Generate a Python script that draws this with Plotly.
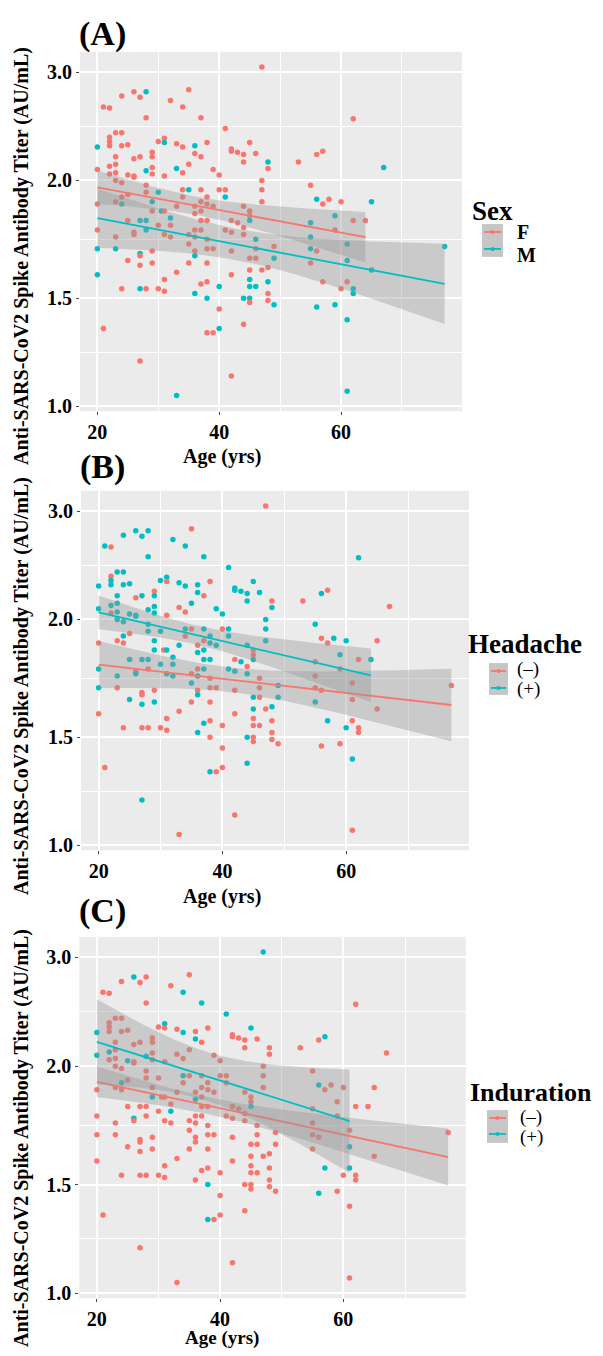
import numpy as np
import plotly.graph_objects as go

# ---------------- data ----------------
AGE = [
    20, 20, 20, 20, 20, 20,
    21, 21,
    22, 22, 22, 22, 22, 22,
    23, 23, 23, 23, 23, 23, 23, 23,
    24, 24, 24, 24, 24, 24, 24,
    25, 25, 25, 25, 25,
    26, 26, 26, 26, 26, 26,
    27, 27, 27, 27, 27, 27, 27, 27,
    28, 28, 28, 28, 28, 28, 28, 28,
    29, 29, 29, 29, 29, 29, 29, 29,
    30, 30, 30.5, 30, 30,
    31, 31, 31, 31, 31, 31, 31,
    32, 32, 32, 32,
    33, 33, 33, 33, 33,
    34, 34, 34, 34, 34,
    35, 35, 35, 35, 35, 35,
    36, 36, 36, 36, 36, 36, 36, 36, 36,
    37, 37, 37, 37, 37, 37, 37, 37,
    38, 38, 38, 38, 38, 38, 38, 38, 38, 38,
    39, 39, 39, 39,
    40, 40, 40, 40, 40,
    41, 41, 41, 41,
    42, 42, 42, 42, 42, 42, 42,
    43, 43,
    44, 44, 44, 44, 44, 44, 44,
    45, 45, 45, 45, 45, 45, 45, 45, 45, 45,
    46, 46, 46, 46, 46,
    47, 47, 47, 47, 47,
    48, 48, 48, 48, 48, 48,
    49, 49, 49,
    53,
    55, 55, 55, 55, 55,
    56, 56, 56, 56,
    57, 57, 57,
    58,
    59, 59, 59,
    60, 60,
    61, 61, 61, 61, 61,
    62, 62, 62, 62,
    64,
    65, 65,
    67,
    77,
]

TITER = [
    2.31, 2.10, 1.90, 1.79, 1.71, 1.60,
    2.68, 1.36,
    2.67, 2.40, 2.36, 2.32, 2.13, 2.06,
    2.44, 2.22, 2.15, 2.07, 2.00, 1.91, 1.76, 1.71,
    2.78, 2.44, 2.32, 1.99, 1.93, 1.90, 1.54,
    2.33, 2.05, 1.94, 1.83, 1.66,
    2.82, 2.20, 2.04, 2.03, 1.78, 1.77,
    2.77, 2.22, 1.83, 1.69, 1.68, 1.64, 1.54, 1.21,
    2.82, 2.58, 2.09, 1.98, 1.95, 1.83, 1.79, 1.54,
    2.26, 2.22, 2.12, 2.06, 1.91, 1.87, 1.70, 1.65,
    2.36, 1.95, 1.87, 1.81, 1.54,
    2.39, 2.35, 2.04, 1.87, 1.77, 1.58, 1.53,
    2.74, 1.84, 1.81, 1.76,
    2.34, 2.11, 1.89, 1.61, 1.05,
    2.68, 2.31, 2.07, 1.96, 1.93,
    2.84, 2.15, 1.96, 1.77, 1.73, 1.65,
    2.32, 2.25, 1.89, 1.86, 1.79, 1.76, 1.70, 1.68, 1.52,
    2.58, 2.22, 1.96, 1.91, 1.87, 1.83, 1.79, 1.56,
    2.35, 1.93, 1.90, 1.83, 1.75, 1.71, 1.65, 1.57, 1.50, 1.34,
    2.10, 1.89, 1.71, 1.34,
    2.05, 1.96, 1.55, 1.45, 1.36,
    2.48, 1.96, 1.93, 1.79,
    2.29, 2.27, 1.83, 1.78, 1.70, 1.60, 1.14,
    2.26, 1.82,
    2.24, 2.17, 1.89, 1.80, 1.77, 1.50, 1.38,
    2.35, 1.87, 1.85, 1.83, 1.67, 1.62, 1.58, 1.55, 1.50, 1.48,
    2.25, 1.75, 1.71, 1.67, 1.55,
    3.05, 2.00, 1.96, 1.91, 1.62,
    2.17, 2.11, 1.63, 1.57, 1.52, 1.49,
    1.72, 1.67, 1.47,
    2.17,
    1.98, 1.82, 1.76, 1.71, 1.65,
    2.24, 1.92, 1.70, 1.46,
    2.27, 1.90, 1.57,
    1.92,
    1.85, 1.79, 1.47,
    1.91, 1.54,
    1.73, 1.66, 1.57, 1.40, 1.07,
    2.57, 1.83, 1.54, 1.52,
    1.83,
    1.91, 1.62,
    2.12,
    1.72,
]

# group membership: 0 = first legend entry (red), 1 = second entry (teal)
SEX_M = [
    1, 0, 0, 0, 1, 1,
    0, 0,
    0, 0, 0, 0, 0, 0,
    0, 0, 0, 0, 0, 0, 0, 1,
    0, 0, 0, 0, 0, 1, 0,
    0, 0, 0, 0, 0,
    0, 0, 0, 0, 0, 0,
    0, 0, 1, 1, 0, 0, 1, 0,
    1, 0, 1, 0, 0, 1, 1, 0,
    0, 0, 0, 0, 1, 0, 0, 0,
    0, 1, 1, 0, 0,
    0, 1, 0, 0, 0, 0, 0,
    0, 1, 0, 0,
    0, 1, 0, 0, 1,
    0, 0, 0, 0, 0,
    0, 0, 1, 0, 0, 0,
    1, 0, 0, 0, 0, 0, 0, 1, 1,
    0, 0, 0, 0, 0, 0, 0, 0,
    0, 0, 0, 0, 0, 0, 0, 0, 1, 0,
    0, 0, 0, 0,
    0, 0, 1, 0, 1,
    0, 0, 1, 0,
    0, 0, 0, 0, 0, 0, 0,
    0, 0,
    0, 0, 0, 0, 0, 1, 0,
    0, 0, 0, 1, 0, 0, 1, 1, 1, 0,
    0, 1, 0, 0, 1,
    0, 0, 0, 0, 0,
    1, 0, 0, 1, 0, 0,
    0, 1, 1,
    0,
    0, 1, 1, 1, 0,
    0, 1, 0, 1,
    0, 0, 0,
    0,
    1, 0, 1,
    0, 0,
    1, 1, 0, 1, 1,
    0, 0, 1, 1,
    0,
    1, 1,
    1,
    1,
]

HEADACHE_POS = [
    1, 1, 0, 1, 1, 0,
    1, 0,
    0, 0, 1, 1, 1, 0,
    1, 1, 1, 1, 1, 0, 1, 0,
    1, 1, 1, 1, 1, 0, 0,
    1, 1, 0, 1, 1,
    1, 0, 1, 1, 0, 1,
    1, 1, 1, 0, 0, 1, 0, 1,
    1, 1, 1, 1, 1, 1, 0, 0,
    0, 1, 1, 1, 1, 1, 0, 1,
    1, 1, 0, 1, 0,
    1, 0, 0, 1, 1, 0, 0,
    1, 1, 1, 1,
    1, 0, 1, 0, 0,
    1, 1, 0, 1, 0,
    0, 1, 0, 0, 1, 0,
    1, 1, 0, 1, 0, 1, 0, 1, 1,
    1, 0, 1, 0, 1, 1, 1, 1,
    0, 1, 1, 1, 0, 0, 0, 0, 0, 1,
    1, 1, 0, 0,
    1, 0, 0, 0, 0,
    1, 1, 1, 1,
    1, 1, 0, 1, 0, 0, 0,
    1, 1,
    1, 1, 1, 0, 1, 1, 1,
    1, 0, 0, 1, 1, 1, 0, 0, 0, 0,
    1, 0, 0, 0, 0,
    0, 1, 1, 1, 0,
    0, 1, 1, 0, 0, 0,
    1, 1, 0,
    0,
    1, 0, 0, 0, 1,
    1, 0, 0, 0,
    0, 0, 1,
    1,
    1, 0, 0,
    1, 1,
    0, 0, 0, 1, 0,
    1, 0, 0, 0,
    1,
    0, 0,
    0,
    0,
]

INDURATION_POS = [
    1, 1, 0, 0, 0, 0,
    0, 0,
    0, 0, 0, 0, 1, 0,
    0, 0, 0, 0, 0, 0, 0, 0,
    0, 0, 0, 0, 1, 0, 0,
    0, 1, 0, 0, 0,
    1, 0, 0, 0, 1, 0,
    0, 0, 0, 0, 0, 0, 0, 0,
    0, 0, 1, 0, 0, 0, 0, 0,
    0, 0, 0, 0, 0, 1, 0, 0,
    0, 0, 0, 0, 0,
    1, 0, 0, 0, 0, 0, 0,
    0, 0, 1, 0,
    0, 0, 0, 0, 0,
    1, 1, 0, 1, 0,
    0, 0, 0, 0, 0, 0,
    0, 1, 0, 1, 0, 0, 0, 0, 0,
    1, 0, 0, 0, 0, 0, 0, 0,
    0, 0, 0, 0, 0, 0, 0, 0, 1, 1,
    0, 0, 0, 0,
    0, 0, 0, 0, 0,
    1, 0, 0, 0,
    0, 0, 0, 0, 0, 0, 0,
    0, 0,
    0, 0, 0, 0, 0, 0, 0,
    1, 0, 0, 1, 0, 0, 0, 0, 0, 0,
    0, 0, 0, 0, 0,
    1, 0, 0, 0, 0,
    0, 0, 0, 0, 0, 0,
    0, 0, 0,
    0,
    0, 0, 0, 0, 0,
    0, 1, 0, 1,
    1, 0, 1,
    0,
    0, 0, 0,
    0, 0,
    0, 1, 1, 0, 0,
    0, 0, 0, 0,
    0,
    0, 0,
    0,
    0,
]

Y_TICK_VALUES = [1.0, 1.5, 2.0, 3.0]
Y_TICK_LABELS = ["1.0", "1.5", "2.0", "3.0"]
Y_TICK_POS = [0.0, 1.0, 2.09, 3.09]      # where the labelled values sit on the axis
X_TICK_VALUES = [20, 40, 60]
X_MINOR_VALUES = [30, 50, 70]

PANEL_TAGS = ["(A)", "(B)", "(C)"]
LEGEND_TITLES = ["Sex", "Headache", "Induration"]
LEGEND_LABELS = [["F", "M"], ["(\u2013)", "(+)"], ["(\u2013)", "(+)"]]
GROUPINGS = [SEX_M, HEADACHE_POS, INDURATION_POS]
COLORS = ["#F8766D", "#00BFC4"]
Y_TITLE = "Anti-SARS-CoV2 Spike Antibody Titer (AU/mL)"
X_TITLE = "Age (yrs)"

# ---------------- helpers ----------------
SERIF = "Liberation Serif, Times New Roman, serif"
FIG_W, FIG_H, OFF = 587, 1340, 8


def PX(x):
    return (x - OFF) / FIG_W


def PY(y):
    return 1 - (y - OFF) / FIG_H


def to_axis(v):
    v = np.asarray(v, dtype=float)
    tv = np.asarray(Y_TICK_VALUES)
    tp = np.asarray(Y_TICK_POS)
    out = np.interp(v, tv, tp)
    lo = v < tv[0]
    hi = v > tv[-1]
    out[lo] = tp[0] + (v[lo] - tv[0]) * (tp[1] - tp[0]) / (tv[1] - tv[0])
    out[hi] = tp[-1] + (v[hi] - tv[-1]) * (tp[-1] - tp[-2]) / (tv[-1] - tv[-2])
    return out


def t975(df):
    z = 1.959964
    return z + (z ** 3 + z) / (4 * df) + (5 * z ** 5 + 16 * z ** 3 + 3 * z) / (96 * df ** 2)


def lm_band(x, y, n_pts=60):
    x = np.asarray(x, float)
    y = np.asarray(y, float)
    n = len(x)
    xb = x.mean()
    sxx = ((x - xb) ** 2).sum()
    b = ((x - xb) * (y - y.mean())).sum() / sxx
    a = y.mean() - b * xb
    s = np.sqrt(((y - (a + b * x)) ** 2).sum() / (n - 2))
    xs = np.linspace(x.min(), x.max(), n_pts)
    yh = a + b * xs
    se = s * np.sqrt(1.0 / n + (xs - xb) ** 2 / sxx)
    t = t975(n - 2)
    return xs, yh, yh - t * se, yh + t * se


# ---------------- layout geometry (page pixels) ----------------
PANEL_BOX = [(80, 52, 462, 413), (81, 493, 469, 854), (79.3, 941, 465.7, 1304)]
TAG_POS = [(102, 34), (103, 469), (103, 915)]
YTITLE_POS = [(22, 257), (22, 689), (22, 1143)]
XTITLE_POS = [(222, 459), (222, 900), (222, 1344)]
XTITLE_SIZE = [20, 20, 19]
LEG_TITLE_POS = [(470, 212), (466, 647), (468, 1097)]
LEG_TITLE_SIZE = [27, 27, 26]
LEG_BOX = [(482, 225, 503, 258), (489, 666, 508, 698), (487, 1115, 508, 1148)]
LEG_ROWS = [(233, 250), (674, 691), (1123, 1139)]
LEG_LABEL_X = [515, 515, 518]
LEG_LABEL_Y = [(233, 256), (672, 692), (1122, 1142)]
LEG_LABEL_BOLD = [True, False, False]

X_RANGE = [17.15, 79.85]
Y_RANGE = [-0.045, 3.28]

yu = to_axis(TITER)
ages = np.asarray(AGE, float)

fig = go.Figure()
annotations = []
shapes = []
layout_axes = {}

for p in range(3):
    sfx = "" if p == 0 else str(p + 1)
    xa, ya = "x" + sfx, "y" + sfx
    grp = np.asarray(GROUPINGS[p])

    # points (single layer, data order)
    fig.add_trace(go.Scatter(
        x=ages, y=yu, mode="markers", xaxis=xa, yaxis=ya, showlegend=False,
        marker=dict(size=5.5, color=[COLORS[g] for g in grp], line=dict(width=0)),
        hoverinfo="skip"))

    # smoothers (lm with 95% band), per group
    for g in (0, 1):
        m = grp == g
        xs, yh, lo, hi = lm_band(ages[m], yu[m])
        fig.add_trace(go.Scatter(
            x=np.concatenate([xs, xs[::-1]]), y=np.concatenate([hi, lo[::-1]]),
            mode="lines", fill="toself", fillcolor="rgba(153,153,153,0.4)",
            line=dict(width=0), xaxis=xa, yaxis=ya, showlegend=False, hoverinfo="skip"))
        fig.add_trace(go.Scatter(
            x=xs, y=yh, mode="lines", line=dict(color=COLORS[g], width=1.8),
            xaxis=xa, yaxis=ya, showlegend=False, hoverinfo="skip"))

    x0, y0, x1, y1 = PANEL_BOX[p]
    common_tick = dict(family=SERIF, size=20, color="black", weight="bold")
    layout_axes["xaxis" + sfx] = dict(
        domain=[PX(x0), PX(x1)], anchor=ya, range=X_RANGE,
        tickmode="array", tickvals=X_TICK_VALUES,
        ticks="outside", ticklen=3, tickwidth=1, tickcolor="#444",
        tickfont=common_tick,
        showgrid=True, gridcolor="white", gridwidth=1.5,
        minor=dict(tickvals=X_MINOR_VALUES, showgrid=True, gridcolor="white",
                   gridwidth=0.8, ticks=""),
        zeroline=False, showline=False, fixedrange=True)
    midpoints = [(Y_TICK_POS[i] + Y_TICK_POS[i + 1]) / 2 for i in range(len(Y_TICK_POS) - 1)]
    layout_axes["yaxis" + sfx] = dict(
        domain=[PY(y1), PY(y0)], anchor=xa, range=Y_RANGE,
        tickmode="array", tickvals=Y_TICK_POS, ticktext=Y_TICK_LABELS,
        ticks="outside", ticklen=3, tickwidth=1, tickcolor="#444",
        tickfont=common_tick,
        showgrid=True, gridcolor="white", gridwidth=1.5,
        minor=dict(tickvals=midpoints, showgrid=True, gridcolor="white",
                   gridwidth=0.8, ticks=""),
        zeroline=False, showline=False, fixedrange=True)

    # texts
    tx, ty = TAG_POS[p]
    annotations.append(dict(text=PANEL_TAGS[p], x=PX(tx), y=PY(ty), xref="paper", yref="paper",
                            showarrow=False, xanchor="center", yanchor="middle",
                            font=dict(family=SERIF, size=34, color="black", weight="bold")))
    tx, ty = YTITLE_POS[p]
    annotations.append(dict(text=Y_TITLE, x=PX(tx), y=PY(ty), xref="paper", yref="paper",
                            showarrow=False, xanchor="center", yanchor="middle", textangle=-90,
                            font=dict(family=SERIF, size=20, color="black", weight="bold")))
    tx, ty = XTITLE_POS[p]
    annotations.append(dict(text=X_TITLE, x=PX(tx), y=PY(ty), xref="paper", yref="paper",
                            showarrow=False, xanchor="center", yanchor="middle",
                            font=dict(family=SERIF, size=XTITLE_SIZE[p], color="black",
                                      weight="bold")))

    # legend (drawn as keys + real text)
    tx, ty = LEG_TITLE_POS[p]
    annotations.append(dict(text=LEGEND_TITLES[p], x=PX(tx), y=PY(ty), xref="paper", yref="paper",
                            showarrow=False, xanchor="left", yanchor="middle",
                            font=dict(family=SERIF, size=LEG_TITLE_SIZE[p], color="black",
                                      weight="bold")))
    bx0, by0, bx1, by1 = LEG_BOX[p]
    shapes.append(dict(type="rect", xref="paper", yref="paper",
                       x0=PX(bx0), x1=PX(bx1), y0=PY(by1), y1=PY(by0),
                       fillcolor="#C6C6C6", line=dict(width=0), layer="above"))
    for g in (0, 1):
        ry = LEG_ROWS[p][g]
        shapes.append(dict(type="line", xref="paper", yref="paper",
                           x0=PX(bx0 + 2), x1=PX(bx1 - 2), y0=PY(ry), y1=PY(ry),
                           line=dict(color=COLORS[g], width=1.8), layer="above"))
        cx = (bx0 + bx1) / 2
        shapes.append(dict(type="circle", xref="paper", yref="paper",
                           x0=PX(cx - 2), x1=PX(cx + 2), y0=PY(ry + 2), y1=PY(ry - 2),
                           fillcolor=COLORS[g], line=dict(width=0), layer="above"))
        lab = LEGEND_LABELS[p][g]
        annotations.append(dict(text=lab, x=PX(LEG_LABEL_X[p]), y=PY(LEG_LABEL_Y[p][g]),
                                xref="paper", yref="paper", showarrow=False,
                                xanchor="left", yanchor="middle",
                                font=dict(family=SERIF, size=20 if LEG_LABEL_BOLD[p] else 19,
                                          color="black",
                                          weight="bold" if LEG_LABEL_BOLD[p] else "normal")))

fig.update_layout(
    width=FIG_W, height=FIG_H, autosize=False,
    margin=dict(l=0, r=0, t=0, b=0, pad=0),
    paper_bgcolor="white", plot_bgcolor="#EBEBEB",
    showlegend=False,
    annotations=annotations, shapes=shapes,
    **layout_axes,
)

fig.write_html("out.html")
